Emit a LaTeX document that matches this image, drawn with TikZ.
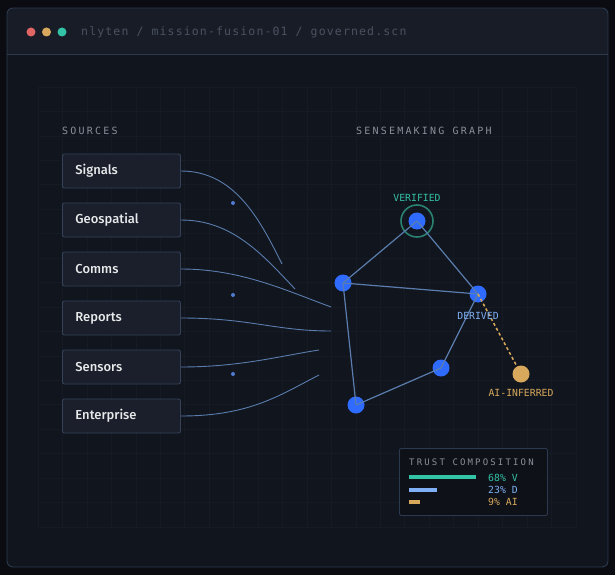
\documentclass[tikz,border=0pt]{standalone}
\usepackage{fontspec}
\setmainfont{Fira Sans}[UprightFont=* Medium]
\newfontfamily\pathfont[LetterSpace=10]{DejaVu Sans Mono}
\newfontfamily\hdrfont[LetterSpace=22]{DejaVu Sans Mono}
\newfontfamily\trustfont[LetterSpace=24]{DejaVu Sans Mono}
\newfontfamily\tagfont{DejaVu Sans Mono}
\usetikzlibrary{positioning}
\definecolor{cpage}{HTML}{0A0C11}
\definecolor{cwin}{HTML}{11151E}
\definecolor{cbar}{HTML}{181C26}
\definecolor{cframe}{HTML}{2C3A4F}
\definecolor{cgrid}{HTML}{151A24}
\definecolor{cbox}{HTML}{1A1F2B}
\definecolor{cboxline}{HTML}{34425A}
\definecolor{clink}{HTML}{5A7DAD}
\definecolor{cnode}{HTML}{2F6BFF}
\definecolor{cteal}{HTML}{33C3A6}
\definecolor{cring}{HTML}{2A8270}
\definecolor{csky}{HTML}{7FB0F5}
\definecolor{cgold}{HTML}{D8A95C}
\definecolor{cmuted}{HTML}{8A8F99}
\definecolor{cdim}{HTML}{4A5161}
\definecolor{cred}{HTML}{E06666}
\definecolor{cdot}{HTML}{4F7BD0}
\definecolor{ctrust}{HTML}{0E1118}

\begin{document}
\begin{tikzpicture}[
  x=1pt, y=-1pt,
  src/.style={draw=cboxline, fill=cbox, rounded corners=2pt, line width=0.9pt,
              minimum width=118pt, minimum height=34pt, anchor=west,
              text=white!90!cbox, font=\fontsize{13}{15}\selectfont,
              align=left, text width=92pt, inner xsep=12.5pt},
  hdr/.style={anchor=west, text=cmuted, font=\hdrfont\fontsize{10}{12}\selectfont, inner sep=0pt},
  feed/.style={draw=clink, line width=0.9pt},
  gnode/.style={circle, fill=cnode, minimum size=17pt, inner sep=0pt},
  gedge/.style={draw=clink, line width=1.2pt},
  tag/.style={font=\tagfont\fontsize{9.8}{11}\selectfont, inner sep=0pt},
  bar/.style={anchor=west, minimum height=4pt, inner sep=0pt},
  winbtn/.style={circle, minimum size=9pt, inner sep=0pt},
]

%% ---------- window ----------
\fill[cpage] (0,0) rectangle (615,575);
\fill[cwin, rounded corners=6pt] (7,8) rectangle (608,567);
\begin{scope}
  \clip[rounded corners=6pt] (7,8) rectangle (608,567);
  \fill[cbar] (7,8) rectangle (608,54);
\end{scope}
\draw[cframe, line width=0.9pt, rounded corners=6pt] (7,8) rectangle (608,567);
\draw[cframe, line width=0.9pt] (7,54) -- (608,54);

\node[winbtn, fill=cred] (b1) at (31,32) {};
\node[winbtn, fill=cgold] (b2) at (46.5,32) {};
\node[winbtn, fill=cteal] (b3) at (62,32) {};
\node[anchor=west, text=cdim, font=\pathfont\fontsize{11.5}{13}\selectfont, inner sep=0pt]
  (path) at (81,32) {nlyten / mission-fusion-01 / governed.scn};

%% faint grid
\foreach \i in {0,...,22}
  \draw[cgrid, line width=0.6pt] (38+24.45*\i,87) -- (38+24.45*\i,527);
\foreach \j in {0,...,18}
  \draw[cgrid, line width=0.6pt] (38,87+24.44*\j) -- (576,87+24.44*\j);

%% ---------- sources ----------
\node[hdr] (srchdr) at (62,131) {SOURCES};

\node[src] (sig) at (62,171) {Signals};
\node[src] (geo) at (62,220) {Geospatial};
\node[src] (com) at (62,269) {Comms};
\node[src] (rep) at (62,318) {Reports};
\node[src] (sen) at (62,367) {Sensors};
\node[src] (ent) at (62,416) {Enterprise};

\coordinate (fsig) at (282,264);
\coordinate (fgeo) at (295,289);
\coordinate (fcom) at (331,307);
\coordinate (frep) at (331,331);
\coordinate (fsen) at (319,350);
\coordinate (fent) at (319,375);

\draw[feed] (sig.east) .. controls (235,171) and (260,220) .. (fsig);
\draw[feed] (geo.east) .. controls (232,220) and (262,254) .. (fgeo);
\draw[feed] (com.east) .. controls (240,269) and (285,290) .. (fcom);
\draw[feed] (rep.east) .. controls (250,318) and (275,331) .. (frep);
\draw[feed] (sen.east) .. controls (240,367) and (280,356) .. (fsen);
\draw[feed] (ent.east) .. controls (250,416) and (280,395) .. (fent);

\node[circle, fill=cdot, minimum size=4pt, inner sep=0pt] (d1) at (233,203) {};
\node[circle, fill=cdot, minimum size=4pt, inner sep=0pt] (d2) at (233,295) {};
\node[circle, fill=cdot, minimum size=4pt, inner sep=0pt] (d3) at (233,374) {};

%% ---------- sensemaking graph ----------
\node[hdr] (gphdr) at (356,131) {SENSEMAKING GRAPH};

\node[gnode] (ver) at (417,221) {};
\node[circle, draw=cring, line width=1.6pt, minimum size=32pt] (ring) at (ver) {};
\node[gnode] (lft) at (343,283) {};
\node[gnode] (der) at (478,294) {};
\node[gnode] (brt) at (441,368) {};
\node[gnode] (blf) at (356,405) {};
\node[gnode, fill=cgold] (ai) at (521,374) {};

\draw[gedge] (ver.center) -- (lft.center);
\draw[gedge] (ver.center) -- (der.center);
\draw[gedge] (lft.center) -- (der.center);
\draw[gedge] (lft.center) -- (blf.center);
\draw[gedge] (blf.center) -- (brt.center);
\draw[gedge] (brt.center) -- (der.center);
\draw[cgold, line width=1.5pt, dash pattern=on 3pt off 2.5pt] (der.center) -- (ai);

\node[tag, text=cteal] (vlbl) at (417,198) {VERIFIED};
\node[tag, text=csky] (dlbl) at (478,316) {DERIVED};
\node[tag, text=cgold] (ailbl) at (521,393) {AI-INFERRED};

%% ---------- trust composition ----------
\node[draw=cframe, fill=ctrust, rounded corners=2pt, line width=0.9pt, anchor=north west,
      minimum width=148pt, minimum height=67pt] (trust) at (399,448) {};
\node[anchor=west, text=cmuted, font=\trustfont\fontsize{9}{11}\selectfont, inner sep=0pt]
  (trhdr) at (409,462) {TRUST COMPOSITION};

\node[bar, fill=cteal, minimum width=67pt] (barv) at (409,477) {};
\node[bar, fill=csky, minimum width=28pt] (bard) at (409,489.5) {};
\node[bar, fill=cgold, minimum width=11pt] (barai) at (409,501.5) {};

\node[tag, anchor=west, text=cteal] (pv) at (488,478) {68\% V};
\node[tag, anchor=west, text=csky] (pd) at (488,490) {23\% D};
\node[tag, anchor=west, text=cgold] (pai) at (488,502) {9\% AI};

\end{tikzpicture}
\end{document}
